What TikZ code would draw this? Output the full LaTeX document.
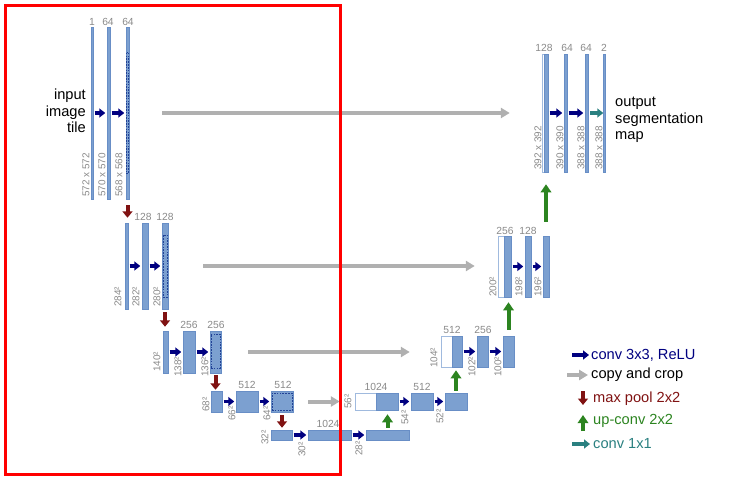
\documentclass[tikz,border=0pt]{standalone}
\usepackage{fontspec}
\setmainfont{Liberation Sans}
\usetikzlibrary{arrows.meta}
\definecolor{mapfill}{RGB}{124,160,208}
\definecolor{mapedge}{RGB}{104,142,198}
\definecolor{copyedge}{RGB}{160,186,222}
\definecolor{cropblue}{RGB}{34,66,150}
\definecolor{dimgray}{RGB}{138,138,138}
\definecolor{convblue}{RGB}{0,0,128}
\definecolor{copygray}{RGB}{176,176,176}
\definecolor{poolred}{RGB}{128,18,18}
\definecolor{upgreen}{RGB}{44,132,32}
\definecolor{convteal}{RGB}{42,128,128}
\newlength\px
\setlength\px{0.03cm}

\begin{document}
\begin{tikzpicture}[
  x=0.03cm, y=-0.03cm,
  fmap/.style 2 args={rectangle, draw=mapedge, fill=mapfill, line width=0.4pt, inner sep=0pt,
    minimum width=#1*\px, minimum height=#2*\px},
  catbox/.style 2 args={rectangle, draw=copyedge, fill=white, line width=0.5pt, inner sep=0pt,
    minimum width=#1*\px, minimum height=#2*\px},
  crop/.style 2 args={rectangle, draw=cropblue, dash pattern=on 1.4pt off 1pt, line width=0.8pt,
    inner sep=0pt, minimum width=#1*\px, minimum height=#2*\px},
  chan/.style={text=dimgray, font=\fontsize{8.8}{9}\selectfont, inner sep=0pt},
  sizelbl/.style={chan, font=\fontsize{8.5}{9}\selectfont, rotate=90, anchor=west},
  bigtext/.style={font=\fontsize{12.5}{14.2}\selectfont, inner sep=0pt},
  convarrow/.style={draw=convblue, line width=3.2*\px, -{Triangle[length=5pt,width=7.5pt]},
    shorten <=1.5*\px, shorten >=1.5*\px},
  copyarrow/.style={draw=copygray, line width=4*\px, -{Triangle[length=7.5pt,width=8.5pt]}},
  poolarrow/.style={draw=poolred, line width=4*\px, -{Triangle[length=5.5pt,width=8.5pt]}},
  uparrow/.style={draw=upgreen, line width=4*\px, -{Triangle[length=7pt,width=9pt]}},
  onearrow/.style={draw=convteal, line width=3.2*\px, -{Triangle[length=5pt,width=7.5pt]}}
]
\useasboundingbox (0,0) rectangle (729,483);

% contracting path
\node[fmap={1.5}{172}] (e1a) at (92.25,113) {};
\node[fmap={3}{172}] (e1b) at (108.5,113) {};
\node[fmap={3}{172}] (e1c) at (127.5,113) {};
\node[crop={2.4}{121}] (k1) at (127.5,112.5) {};
\node[fmap={3}{86}] (e2a) at (126.5,266) {};
\node[fmap={6}{86}] (e2b) at (145,266) {};
\node[fmap={6}{86}] (e2c) at (165,266) {};
\node[crop={4}{62}] (k2) at (165,266) {};
\node[fmap={5}{42}] (e3a) at (165.5,352) {};
\node[fmap={12}{42}] (e3b) at (189,352) {};
\node[fmap={11}{42}] (e3c) at (215.5,352) {};
\node[crop={9}{34}] (k3) at (215.5,351) {};
\node[fmap={11}{21}] (e4a) at (216.5,401.5) {};
\node[fmap={22}{21}] (e4b) at (247,401.5) {};
\node[fmap={22}{21}] (e4c) at (282,401.5) {};
\node[crop={20}{17}] (k4) at (282,401.5) {};
\node[fmap={21}{10}] (m5a) at (281.5,435) {};
\node[fmap={43}{10}] (m5b) at (329.5,435) {};
\node[fmap={43}{10}] (m5c) at (387.5,435) {};

% expanding path
\node[catbox={21}{17}] (w4) at (365.5,401.5) {};
\node[fmap={22}{17}] (d4a) at (387,401.5) {};
\node[fmap={22}{17}] (d4b) at (422,401.5) {};
\node[fmap={22}{17}] (d4c) at (456,401.5) {};
\node[catbox={11}{31}] (w3) at (446.5,351.5) {};
\node[fmap={10}{31}] (d3a) at (457,351.5) {};
\node[fmap={11}{31}] (d3b) at (482.5,351.5) {};
\node[fmap={11}{31}] (d3c) at (508.5,351.5) {};
\node[catbox={6}{61}] (w2) at (501,266.5) {};
\node[fmap={7}{61}] (d2a) at (507.5,266.5) {};
\node[fmap={6}{61}] (d2b) at (528,266.5) {};
\node[fmap={6}{61}] (d2c) at (546,266.5) {};
\node[catbox={2}{118}] (w1) at (543,113) {};
\node[fmap={4}{118}] (d1a) at (546,113) {};
\node[fmap={3}{118}] (d1b) at (565.5,113) {};
\node[fmap={3}{118}] (d1c) at (586.5,113) {};
\node[fmap={1.5}{118}] (seg) at (604.25,113) {};

% channel counts
\node[chan] (n1a) at (92,22) {1};
\node[chan] (n1b) at (108,22) {64};
\node[chan] (n1c) at (128,22) {64};
\node[chan] (n2b) at (143,217) {128};
\node[chan] (n2c) at (165,217) {128};
\node[chan] (n3b) at (189,325) {256};
\node[chan] (n3c) at (216,325) {256};
\node[chan] (n4b) at (247,385) {512};
\node[chan] (n4c) at (283,385) {512};
\node[chan] (n5b) at (328,424) {1024};
\node[chan] (m4a) at (376,387) {1024};
\node[chan] (m4b) at (422,387) {512};
\node[chan] (m3a) at (452,330) {512};
\node[chan] (m3b) at (483,330) {256};
\node[chan] (m2a) at (505,231) {256};
\node[chan] (m2b) at (528,231) {128};
\node[chan] (m1a) at (544,48) {128};
\node[chan] (m1b) at (567,48) {64};
\node[chan] (m1c) at (586,48) {64};
\node[chan] (m1d) at (604,48) {2};

% map sizes
\node[sizelbl] (s1a) at (86,197) {572 x 572};
\node[sizelbl] (s1b) at (102,197) {570 x 570};
\node[sizelbl] (s1c) at (119,197) {568 x 568};
\node[sizelbl] (s2a) at (118,307) {284²};
\node[sizelbl] (s2b) at (136,307) {282²};
\node[sizelbl] (s2c) at (157,307) {280²};
\node[sizelbl] (s3a) at (157,372) {140²};
\node[sizelbl] (s3b) at (178,377) {138²};
\node[sizelbl] (s3c) at (205,377) {136²};
\node[sizelbl] (s4a) at (206,412) {68²};
\node[sizelbl] (s4b) at (232,421) {66²};
\node[sizelbl] (s4c) at (267,421) {64²};
\node[sizelbl] (s5a) at (265,445) {32²};
\node[sizelbl] (s5b) at (302,457) {30²};
\node[sizelbl] (s5c) at (359,456) {28²};
\node[sizelbl] (r4a) at (348,409) {56²};
\node[sizelbl] (r4b) at (405,425) {54²};
\node[sizelbl] (r4c) at (440,424) {52²};
\node[sizelbl] (r3a) at (434,368) {104²};
\node[sizelbl] (r3b) at (472,377) {102²};
\node[sizelbl] (r3c) at (498,377) {100²};
\node[sizelbl] (r2a) at (493,297) {200²};
\node[sizelbl] (r2b) at (519,297) {198²};
\node[sizelbl] (r2c) at (538,297) {196²};
\node[sizelbl] (r1a) at (538,170) {392 x 392};
\node[sizelbl] (r1b) at (560,170) {390 x 390};
\node[sizelbl] (r1c) at (581,170) {388 x 388};
\node[sizelbl] (r1d) at (599,170) {388 x 388};

\node[bigtext, align=right, anchor=east] (intile) at (86,111) {input\\image\\tile};
\node[bigtext, align=left, anchor=west] (outmap) at (615,120) {output\\segmentation\\map};

% conv 3x3
\draw[convarrow] (e1a) -- (e1b);
\draw[convarrow] (e1b) -- (e1c);
\draw[convarrow] (e2a) -- (e2b);
\draw[convarrow] (e2b) -- (e2c);
\draw[convarrow] (e3a) -- (e3b);
\draw[convarrow] (e3b) -- (e3c);
\draw[convarrow] (e4a) -- (e4b);
\draw[convarrow] (e4b) -- (e4c);
\draw[convarrow] (m5a) -- (m5b);
\draw[convarrow] (m5b) -- (m5c);
\draw[convarrow] (d4a) -- (d4b);
\draw[convarrow] (d4b) -- (d4c);
\draw[convarrow] (d3a) -- (d3b);
\draw[convarrow] (d3b) -- (d3c);
\draw[convarrow] (d2a) -- (d2b);
\draw[convarrow] (d2b) -- (d2c);
\draw[convarrow] (d1a) -- (d1b);
\draw[convarrow] (d1b) -- (d1c);
\draw[onearrow, shorten <=2*\px] (d1c) -- (seg);

% copy and crop
\draw[copyarrow, shorten <=33*\px, shorten >=32*\px] (e1c.east) -- (e1c.east -| w1.west);
\draw[copyarrow, shorten <=35*\px, shorten >=23*\px] (e2c.east) -- (e2c.east -| w2.west);
\draw[copyarrow, shorten <=27*\px, shorten >=31*\px] (e3c.east) -- (e3c.east -| w3.west);
\draw[copyarrow, shorten <=15*\px, shorten >=15*\px] (e4c.east) -- (e4c.east -| w4.west);

% max pool
\draw[poolarrow, shorten <=6*\px, shorten >=5*\px] (e1c.south) -- (e1c.south |- e2a.north);
\draw[poolarrow, shorten <=3*\px, shorten >=4*\px] (e2c.south) -- (e2c.south |- e3a.north);
\draw[poolarrow, shorten <=2*\px, shorten >=1*\px] (e3c.south) -- (e3c.south |- e4a.north);
\draw[poolarrow, shorten <=3*\px, shorten >=2*\px] (e4c.south) -- (e4c.south |- m5a.north);

% up-conv
\draw[uparrow, shorten <=2*\px, shorten >=4*\px] (m5c.north) -- (m5c.north |- d4a.south);
\draw[uparrow, shorten <=2*\px, shorten >=3*\px] (d4c.north) -- (d4c.north |- d3a.south);
\draw[uparrow, shorten <=6*\px, shorten >=5*\px] (d3c.north) -- (d3c.north |- d2a.south);
\draw[uparrow, shorten <=14*\px, shorten >=12*\px] (d2c.north) -- (d2c.north |- d1a.south);

% legend
\coordinate (g1a) at (572,355);
\coordinate (g1b) at (589,355);
\coordinate (g2a) at (567,375);
\coordinate (g2b) at (588,375);
\coordinate (g3a) at (583,391);
\coordinate (g3b) at (583,405);
\coordinate (g4a) at (583,431);
\coordinate (g4b) at (583,415);
\coordinate (g5a) at (572,444);
\coordinate (g5b) at (590,444);
\draw[convarrow, shorten <=0pt, shorten >=0pt] (g1a) -- (g1b);
\draw[copyarrow] (g2a) -- (g2b);
\draw[poolarrow] (g3a) -- (g3b);
\draw[uparrow] (g4a) -- (g4b);
\draw[onearrow] (g5a) -- (g5b);
\node[bigtext, anchor=west, text=convblue] (t1) at (591,355) {conv 3x3, ReLU};
\node[bigtext, anchor=west] (t2) at (591,375) {copy and crop};
\node[bigtext, anchor=west, text=poolred] (t3) at (593,399) {max pool 2x2};
\node[bigtext, anchor=west, text=upgreen] (t4) at (593,421) {up-conv 2x2};
\node[bigtext, anchor=west, text=convteal] (t5) at (593,444) {conv 1x1};

% highlight
\draw[red, line width=2.8*\px] (5.5,5.5) rectangle (340.5,474.5);
\end{tikzpicture}
\end{document}
